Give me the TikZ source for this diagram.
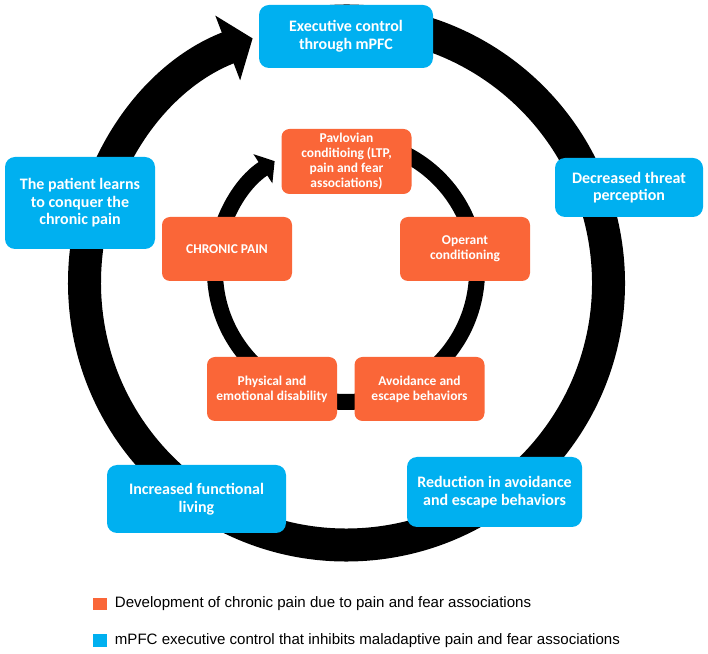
\documentclass[tikz,border=0pt]{standalone}
\usepackage{fontspec}
\setmainfont{Carlito}
\newfontfamily\legendfont{Liberation Sans}
\usepackage{xcolor}
\usepackage{tikz}
\usetikzlibrary{arrows.meta,positioning}

\definecolor{ctrlblue}{RGB}{0,176,240}
\definecolor{painorange}{RGB}{250,102,56}

\tikzset{
    bluebox/.style={fill=ctrlblue, rounded corners=7.5pt, text=white, align=center,
        font=\fontsize{12}{13.2}\selectfont\bfseries, inner sep=2pt},
    orangebox/.style={fill=painorange, rounded corners=6pt, text=white, align=center,
        font=\fontsize{10.1}{11.3}\selectfont\bfseries, inner sep=2pt,
        minimum width=97.5pt, minimum height=48pt},
    legsq/.style={minimum width=10.5pt, minimum height=9.5pt, inner sep=0pt},
    legendtext/.style={font=\legendfont\fontsize{11.3}{13}\selectfont, inner sep=0pt, anchor=west}
}

\begin{document}
\begin{tikzpicture}[x=0.75pt, y=0.75pt]
    \useasboundingbox (0,0) rectangle (708,654);
    \coordinate (outerc) at (346.5,371);
    \coordinate (innerc) at (346,383);

    % Outer and inner cycle
    \draw[line width=24.75pt, -{Triangle[length=20pt, width=51pt]}]
        ([shift={(95:262)}]outerc) arc[start angle=95, end angle=-249, radius=262];
    \draw[line width=12pt, -{Triangle[length=10.5pt, width=25.5pt]}]
        ([shift={(85:131)}]innerc) arc[start angle=85, end angle=-237, radius=131];

    % mPFC executive control boxes
    \node[bluebox, minimum width=130.5pt, minimum height=47.25pt] (exec) at (346,617.5) {Executive control\\through mPFC};
    \node[bluebox, minimum width=111pt, minimum height=44.25pt] (threat) at (629,466.5) {Decreased threat\\perception};
    \node[bluebox, minimum width=131.25pt, minimum height=52.5pt] (reduction) at (494.5,162) {Reduction in avoidance\\and escape behaviors};
    \node[bluebox, minimum width=134.25pt, minimum height=51pt] (living) at (196.5,155) {Increased functional\\living};
    \node[bluebox, minimum width=112.5pt, minimum height=69pt] (patient) at (80,451) {The patient learns\\to conquer the\\chronic pain};

    % Chronic pain development boxes
    \node[orangebox, minimum height=48.75pt] (pavlov) at (346.5,492.5) {Pavlovian\\conditioing (LTP,\\pain and fear\\associations)};
    \node[orangebox] (operant) at (465,405) {Operant\\conditioning};
    \node[orangebox] (avoid) at (419.5,265) {Avoidance and\\escape behaviors};
    \node[orangebox] (physical) at (272,265) {Physical and\\emotional disability};
    \node[orangebox] (chronic) at (227,405) {CHRONIC PAIN};

    % Legend
    \node[legsq, fill=painorange] (sqpain) at (100,50) {};
    \node[legendtext, right=11pt of sqpain.center] (legpain) {Development of chronic pain due to pain and fear associations};
    \node[legsq, fill=ctrlblue] (sqctrl) at (100,13.5) {};
    \node[legendtext, right=11pt of sqctrl.center] (legctrl) {mPFC executive control that inhibits maladaptive pain and fear associations};
\end{tikzpicture}
\end{document}
